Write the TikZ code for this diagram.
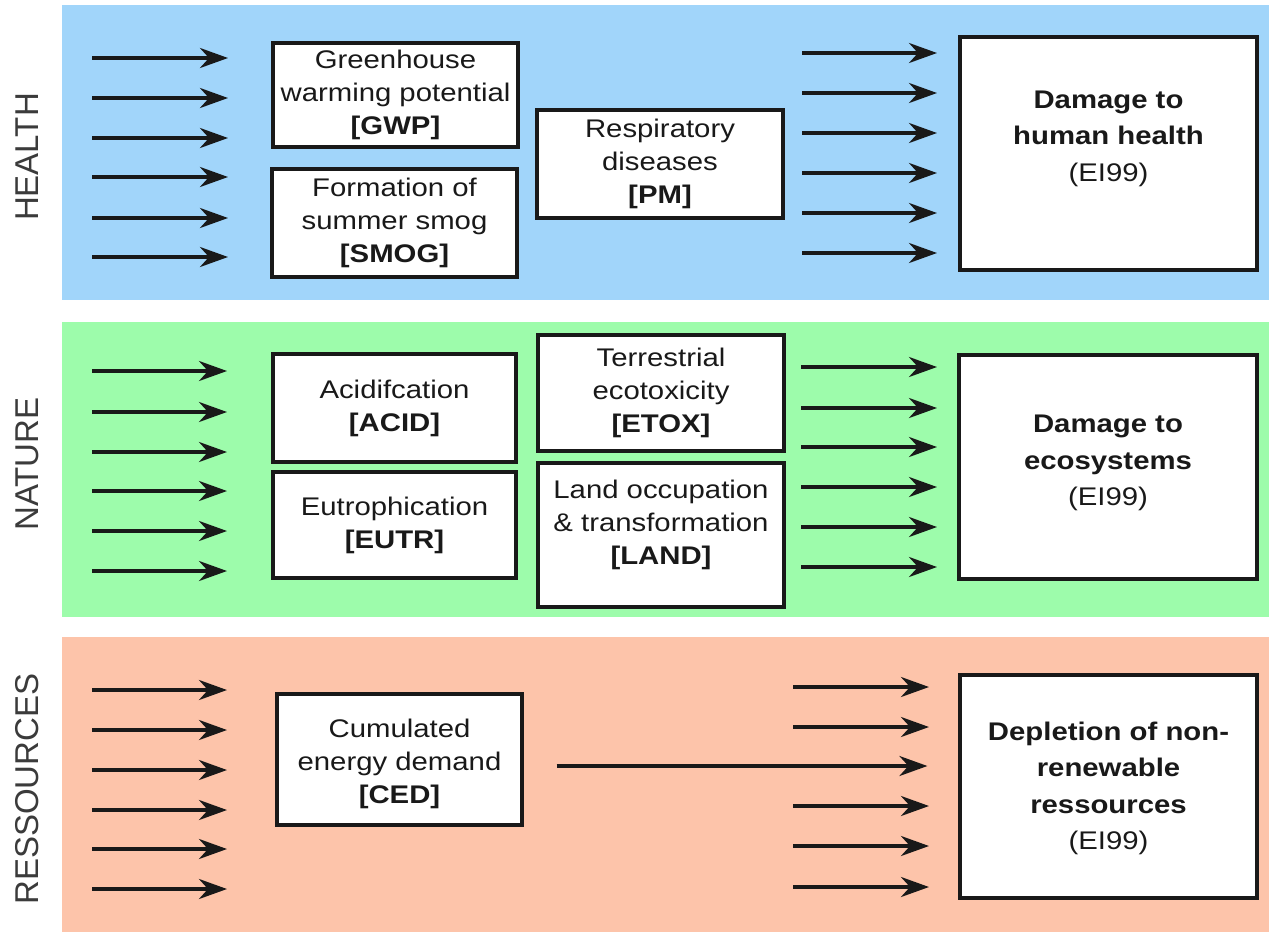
\documentclass[tikz,border=0pt]{standalone}
\usepackage{fontspec}
\setmainfont{Liberation Sans}[FakeStretch=1.15]
\newfontfamily\sidefont{Liberation Sans}
\usetikzlibrary{arrows.meta}
\definecolor{healthbg}{RGB}{161,213,250}
\definecolor{naturebg}{RGB}{157,252,171}
\definecolor{resbg}{RGB}{253,196,170}
\definecolor{ink}{RGB}{25,25,25}
\tikzset{
  box/.style={draw=ink, line width=3.2pt, fill=white, inner sep=0pt, align=center,
              font=\fontsize{25.5}{33}\selectfont, text=ink},
  dbox/.style={draw=ink, line width=3.2pt, fill=white, inner sep=0pt},
  dtxt/.style={align=center, inner sep=0pt, font=\fontsize{25.5}{36.5}\selectfont\bfseries, text=ink},
  arr/.style={line width=3.4pt, draw=ink, -{Stealth[length=28pt,width=20pt,inset=9pt]}},
  side/.style={rotate=90, inner sep=0pt, font=\sidefont\fontsize{33}{33}\selectfont, text=ink!85}
}
\begin{document}
\begin{tikzpicture}[x=1pt,y=-1pt]
\useasboundingbox (0,0) rectangle (1269,932);
% bands
\fill[healthbg] (62,5) rectangle (1269,300);
\fill[naturebg] (62,322) rectangle (1269,617);
\fill[resbg] (62,637) rectangle (1269,932);
% side labels
\node[side] (lhealth) at (27.5,157) {HEALTH};
\node[side] (lnature) at (27.5,464) {NATURE};
\node[side] (lres) at (27.5,789) {RESSOURCES};

% ---------------- HEALTH ----------------
\node[box, minimum width=245, minimum height=104] (gwp) at (395.5,95)
  {Greenhouse\\warming potential\\\textbf{[GWP]}};
\node[box, minimum width=245, minimum height=108] (smog) at (394.5,223)
  {Formation of\\summer smog\\\textbf{[SMOG]}};
\node[box, minimum width=246, minimum height=108] (pm) at (660,164)
  {Respiratory\\diseases\\\textbf{[PM]}};
\node[dbox, minimum width=297, minimum height=233] (hh) at (1108.5,153.5) {};
\node[dtxt] (hhtxt) at ([yshift=15pt]hh.center) {Damage to\\human health\\{\mdseries (EI99)}};
\foreach \y [count=\i] in {58,98,138,177,218,257}{
  \coordinate (hL\i a) at (92,\y); \coordinate (hL\i b) at (228,\y);
  \draw[arr] (hL\i a) -- (hL\i b);
}
\foreach \y [count=\i] in {53,93,133,173,213,253}{
  \coordinate (hR\i a) at (802,\y); \coordinate (hR\i b) at (937,\y);
  \draw[arr] (hR\i a) -- (hR\i b);
}

% ---------------- NATURE ----------------
\node[box, minimum width=243, minimum height=108] (acid) at (394.5,408)
  {Acidifcation\\\textbf{[ACID]}};
\node[box, minimum width=243, minimum height=106] (eutr) at (394.5,525)
  {Eutrophication\\\textbf{[EUTR]}};
\node[box, minimum width=246, minimum height=116] (etox) at (661,393)
  {Terrestrial\\ecotoxicity\\\textbf{[ETOX]}};
\node[dbox, minimum width=246, minimum height=144] (land) at (661,535) {};
\node[box, draw=none, fill=none] (landtxt) at ([yshift=10pt]land.center)
  {Land occupation\\\& transformation\\\textbf{[LAND]}};
\node[dbox, minimum width=298, minimum height=224] (eco) at (1108,467) {};
\node[dtxt] (ecotxt) at ([yshift=4pt]eco.center) {Damage to\\ecosystems\\{\mdseries (EI99)}};
\foreach \y [count=\i] in {371,412,452,491,531,571}{
  \coordinate (nL\i a) at (92,\y); \coordinate (nL\i b) at (227,\y);
  \draw[arr] (nL\i a) -- (nL\i b);
}
\foreach \y [count=\i] in {367,408,447,487,527,567}{
  \coordinate (nR\i a) at (801,\y); \coordinate (nR\i b) at (937,\y);
  \draw[arr] (nR\i a) -- (nR\i b);
}

% ---------------- RESSOURCES ----------------
\node[dbox, minimum width=245, minimum height=131] (ced) at (399.5,759.5) {};
\node[box, draw=none, fill=none] (cedtxt) at ([yshift=-4pt]ced.center)
  {Cumulated\\energy demand\\\textbf{[CED]}};
\node[dbox, minimum width=297, minimum height=223] (dep) at (1108.5,786.5) {};
\node[dtxt] (deptxt) at ([yshift=-2pt]dep.center)
  {Depletion of non-\\renewable\\ressources\\{\mdseries (EI99)}};
\foreach \y [count=\i] in {690,730,770,810,849,889}{
  \coordinate (rL\i a) at (92,\y); \coordinate (rL\i b) at (227,\y);
  \draw[arr] (rL\i a) -- (rL\i b);
}
\foreach \y [count=\i] in {687,727,806,846,887}{
  \coordinate (rR\i a) at (793,\y); \coordinate (rR\i b) at (929,\y);
  \draw[arr] (rR\i a) -- (rR\i b);
}
\coordinate (cedy) at (0,766);
\draw[arr, shorten <=33pt, shorten >=31pt] (ced.east |- cedy) -- (dep.west |- cedy);
\end{tikzpicture}
\end{document}
